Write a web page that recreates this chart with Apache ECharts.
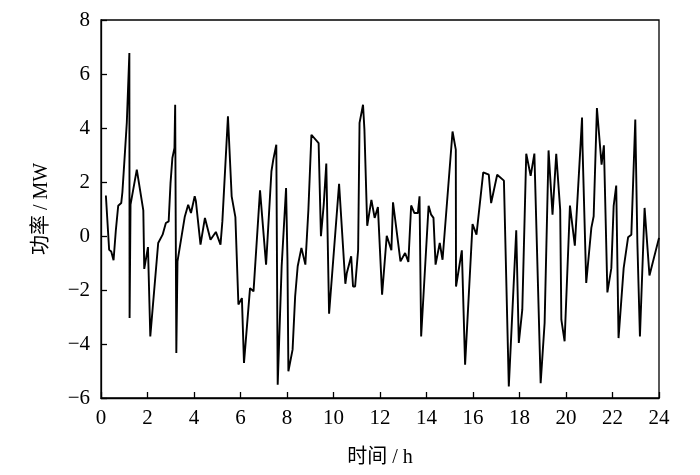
<!DOCTYPE html>
<html>
<head>
<meta charset="utf-8">
<script src="https://cdn.jsdelivr.net/npm/echarts@6/dist/echarts.min.js"></script>
<style>
  html, body { margin: 0; padding: 0; background: #fff; }
  #chart { width: 700px; height: 475px; }
</style>
</head>
<body>
<div id="chart"></div>
<script>
// time of each sample, h
var hours = [
  0.21, 0.35, 0.44, 0.54, 0.64, 0.74, 0.87, 0.92, 1.01, 1.11,
  1.22, 1.23, 1.27, 1.54, 1.82, 1.86, 2.02, 2.12, 2.46, 2.65,
  2.79, 2.91, 2.99, 3.07, 3.16, 3.19, 3.24, 3.29, 3.60, 3.75,
  3.87, 4.03, 4.08, 4.28, 4.47, 4.71, 4.94, 5.14, 5.22, 5.46,
  5.62, 5.78, 5.91, 6.06, 6.15, 6.41, 6.56, 6.84, 7.10, 7.33,
  7.41, 7.54, 7.60, 7.77, 7.96, 8.02, 8.06, 8.24, 8.35, 8.46,
  8.62, 8.79, 8.92, 9.05, 9.36, 9.46, 9.58, 9.69, 9.81, 10.24,
  10.51, 10.57, 10.76, 10.84, 10.93, 11.06, 11.12, 11.27, 11.33, 11.45,
  11.63, 11.77, 11.91, 12.09, 12.29, 12.49, 12.56, 12.88, 13.08, 13.22,
  13.34, 13.48, 13.63, 13.70, 13.77, 14.09, 14.20, 14.30, 14.39, 14.57,
  14.69, 15.12, 15.26, 15.27, 15.52, 15.66, 15.98, 16.15, 16.44, 16.68,
  16.78, 17.04, 17.33, 17.54, 17.86, 17.97, 18.12, 18.29, 18.48, 18.64,
  18.91, 19.08, 19.25, 19.42, 19.58, 19.75, 19.80, 19.94, 20.17, 20.38,
  20.63, 20.69, 20.71, 20.87, 21.09, 21.19, 21.33, 21.53, 21.63, 21.78,
  21.95, 22.05, 22.16, 22.26, 22.48, 22.67, 22.81, 22.98, 23.07, 23.18,
  23.38, 23.59, 24.00
];
// power, MW
var power = [
  1.50, -0.51, -0.57, -0.90, 0.23, 1.12, 1.22, 1.62, 2.83, 4.20,
  6.78, -3.04, 1.16, 2.46, 0.95, -1.22, -0.41, -3.72, -0.26, 0.05,
  0.48, 0.54, 1.96, 2.89, 3.26, 4.86, -4.33, -0.94, 0.70, 1.16,
  0.85, 1.47, 1.30, -0.32, 0.67, -0.14, 0.15, -0.32, 0.54, 4.43,
  1.47, 0.70, -2.54, -2.30, -4.70, -1.93, -2.05, 1.69, -1.06, 2.39,
  2.83, 3.38, -5.51, -1.12, 1.78, -0.90, -5.01, -4.21, -2.24, -1.12,
  -0.44, -1.06, 0.97, 3.75, 3.44, -0.01, 1.16, 2.68, -2.88, 1.93,
  -1.77, -1.38, -0.75, -1.87, -1.87, -0.51, 4.19, 4.86, 3.94, 0.38,
  1.34, 0.67, 1.07, -2.17, 0.01, -0.53, 1.25, -0.94, -0.63, -0.96,
  1.13, 0.85, 0.85, 1.47, -3.72, 1.12, 0.79, 0.67, -1.06, -0.26,
  -0.88, 3.87, 3.20, -1.87, -0.53, -4.77, 0.44, 0.05, 2.36, 2.27,
  1.22, 2.27, 2.05, -5.57, 0.21, -3.96, -2.73, 3.05, 2.23, 3.05,
  -5.45, -3.22, 3.17, 0.79, 3.04, 0.97, -3.10, -3.90, 1.13, -0.36,
  3.44, 4.39, 3.32, -1.74, 0.30, 0.73, 4.74, 2.64, 3.36, -2.09,
  -1.19, 1.12, 1.87, -3.78, -1.19, -0.05, 0.05, 4.31, -0.26, -3.72,
  1.04, -1.46, -0.07
];

var serif = "'Liberation Serif', 'Times New Roman', 'Noto Sans CJK SC', serif";

var pts = hours.map(function(h, i) { return [h, power[i]]; });

var chart = echarts.init(document.getElementById('chart'));
chart.setOption({
  animation: false,
  backgroundColor: '#fff',
  grid: {
    left: 101, right: 41, top: 20, bottom: 77,
    show: true, borderColor: '#000', borderWidth: 1.3
  },
  xAxis: {
    type: 'value',
    min: 0, max: 24, interval: 2,
    name: '时间 / h',
    nameLocation: 'middle',
    nameGap: 50,
    nameTextStyle: { color: '#000', fontSize: 20, fontFamily: serif },
    axisLine: { onZero: false, lineStyle: { color: '#000', width: 1.3 } },
    axisTick: { inside: true, length: 6, lineStyle: { color: '#000', width: 1.3 } },
    axisLabel: { color: '#000', fontSize: 21, fontFamily: serif, margin: 10 },
    splitLine: { show: false }
  },
  yAxis: {
    type: 'value',
    min: -6, max: 8, interval: 2,
    name: '功率 / MW',
    nameLocation: 'middle',
    nameGap: 49,
    nameTextStyle: { color: '#000', fontSize: 20, fontFamily: serif },
    axisLine: { onZero: false, lineStyle: { color: '#000', width: 1.3 } },
    axisTick: { inside: true, length: 6, lineStyle: { color: '#000', width: 1.3 } },
    axisLabel: {
      color: '#000', fontSize: 21, fontFamily: serif, margin: 11,
      formatter: function(v) { return String(v).replace('-', '\u2212'); }
    },
    splitLine: { show: false }
  },
  series: [{
    type: 'line',
    data: pts,
    showSymbol: false,
    lineStyle: { color: '#000', width: 1.9 }
  }]
});
</script>
</body>
</html>
